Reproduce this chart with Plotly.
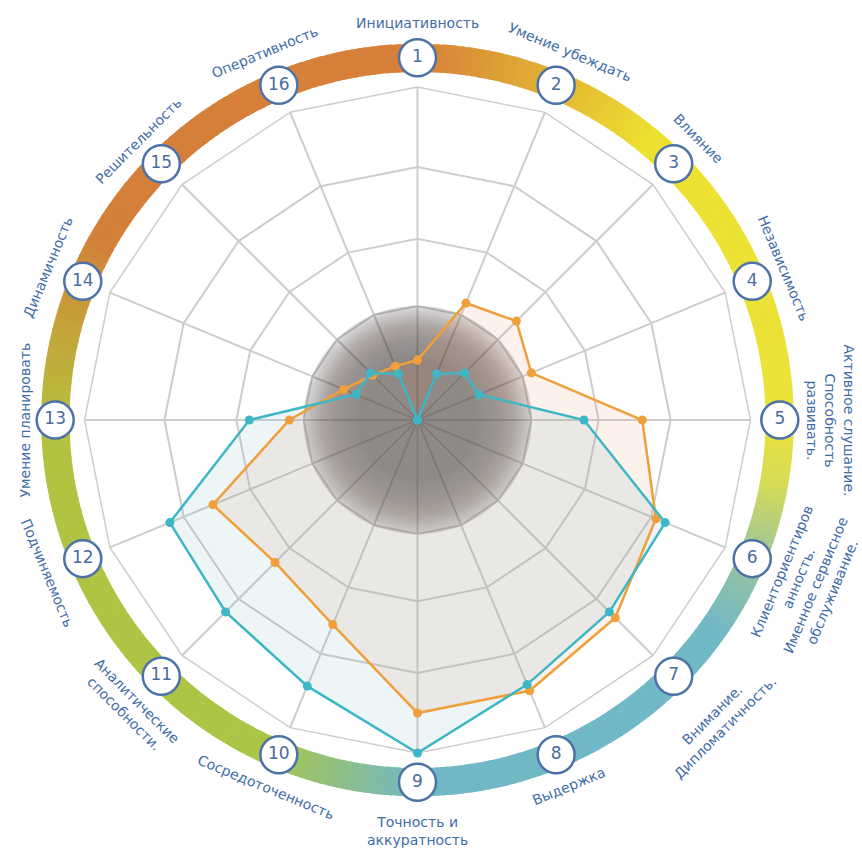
import numpy as np
import plotly.graph_objects as go

# ---------------- data ----------------
categories = [str(i) for i in range(1, 17)]
labels = [
    "Инициативность",
    "Умение убеждать",
    "Влияние",
    "Независимость",
    "Активное слушание.<br>Способность<br>развивать.",
    "Клиенториентиров<br>анность.<br>Именное сервисное<br>обслуживание.",
    "Внимание.<br>Дипломатичность.",
    "Выдержка",
    "Точность и<br>аккуратность",
    "Сосредоточенность",
    "Аналитические<br>способности.",
    "Подчиняемость",
    "Умение планировать",
    "Динамичность",
    "Решительность",
    "Оперативность",
]
orange_vals = [18, 38, 42, 37, 67.5, 77.5, 84, 88, 88, 66.5, 60.5, 66.5, 38.5, 24, 19, 17.5]
teal_vals = [0, 15, 20, 20, 50, 80.5, 81.5, 86, 100, 86.5, 81.5, 80.5, 50.5, 20, 20, 15]
ring_levels = [34.2, 54.4, 76]

# ---------------- geometry / style ----------------
W, H = 862, 851
CX, CY = 417.5, 420.0
PX = 3.33  # pixels per radial unit (100 units -> 333 px)

ORANGE = "#ef9f3b"
TEAL = "#3db7c6"
GRID = "#cdcdcd"
LABEL = "#3f6da7"
NUMC = "#4a6c9c"


def domain(rpx):
    return dict(x=[(CX - rpx) / W, (CX + rpx) / W],
                y=[1 - (CY + rpx) / H, 1 - (CY - rpx) / H])


fig = go.Figure()

# polar : grid only (dummy trace)
fig.add_trace(go.Scatterpolar(r=[0] * 16, theta=categories, mode="markers",
                              marker=dict(size=1, opacity=0), hoverinfo="skip",
                              showlegend=False, subplot="polar"))

# polar2 : shaded disk (radial gradient built from translucent layers)
prof_r = [0, 18, 24, 28, 31, 33, 34.3]
prof_t = [0.50, 0.50, 0.47, 0.40, 0.30, 0.22, 0.15]
radii = np.arange(34.3, 0.3, -0.6)
prev = 0.0
circ_theta = np.linspace(0, 360, 241)
for rk in radii:
    t = float(np.interp(rk - 0.3, prof_r, prof_t))
    a = 1 - (1 - t) / (1 - prev) if prev < 1 else 0
    prev = t
    fig.add_trace(go.Scatterpolar(r=[rk] * len(circ_theta), theta=circ_theta,
                                  mode="lines", line=dict(width=0),
                                  fill="toself", fillcolor=f"rgba(48,44,40,{a:.4f})",
                                  hoverinfo="skip", showlegend=False, subplot="polar2"))

# polar3 : data
th = categories + [categories[0]]
fig.add_trace(go.Scatterpolar(r=orange_vals + [orange_vals[0]], theta=th, mode="none",
                              fill="toself", fillcolor="rgba(230,138,88,0.12)",
                              hoverinfo="skip", showlegend=False, subplot="polar3"))
fig.add_trace(go.Scatterpolar(r=teal_vals + [teal_vals[0]], theta=th, mode="none",
                              fill="toself", fillcolor="rgba(105,172,188,0.12)",
                              hoverinfo="skip", showlegend=False, subplot="polar3"))
fig.add_trace(go.Scatterpolar(r=orange_vals + [orange_vals[0]], theta=th, mode="lines+markers",
                              line=dict(color=ORANGE, width=2.5),
                              marker=dict(color=ORANGE, size=9),
                              showlegend=False, subplot="polar3"))
fig.add_trace(go.Scatterpolar(r=teal_vals + [teal_vals[0]], theta=th, mode="lines+markers",
                              line=dict(color=TEAL, width=2.5),
                              marker=dict(color=TEAL, size=9),
                              showlegend=False, subplot="polar3"))

# polar4 : coloured ring + numbered circles
stops = [(0, "#d8803a"), (15, "#dea336"), (40, "#ede12f"), (90, "#ebe33a"),
         (100, "#d6dc55"), (112, "#9cc59a"), (125, "#72b9c6"), (180, "#70b8c5"),
         (192, "#8ebf8a"), (205, "#aac647"), (268, "#b3c240"), (284, "#c4a53a"),
         (300, "#d3803a"), (360, "#d8803a")]


def hex2rgb(h):
    return [int(h[i:i + 2], 16) for i in (1, 3, 5)]


sa = [s[0] for s in stops]
sc = np.array([hex2rgb(s[1]) for s in stops], dtype=float)
ring_theta = np.arange(0, 360, 1.0) + 0.5
ring_cols = []
for tdeg in ring_theta:
    c = [np.interp(tdeg, sa, sc[:, k]) for k in range(3)]
    ring_cols.append("rgb(%d,%d,%d)" % tuple(int(round(v)) for v in c))

fig.add_trace(go.Barpolar(r=[8.5] * len(ring_theta), base=104.5, theta=ring_theta,
                          width=[1.25] * len(ring_theta),
                          marker=dict(color=ring_cols, line=dict(width=0)),
                          hoverinfo="skip", showlegend=False, subplot="polar4"))
num_theta = [i * 22.5 for i in range(16)]
fig.add_trace(go.Scatterpolar(r=[108.8] * 16, theta=num_theta, mode="markers+text",
                              text=categories, textposition="middle center",
                              textfont=dict(color=NUMC, size=17, family="DejaVu Sans"),
                              marker=dict(size=37, color="white",
                                          line=dict(color="#4d72a8", width=2.5)),
                              hoverinfo="skip", showlegend=False, subplot="polar4"))

# curved-ish labels as rotated annotations
label_r = [397, 398, 398, 396, 413, 422, 426, 396, 411, 397, 406, 401, 393, 400, 395, 398]
annotations = []
for i, (txt, R) in enumerate(zip(labels, label_r)):
    th_deg = i * 22.5
    rad = np.radians(th_deg)
    px = CX + R * np.sin(rad)
    py = CY - R * np.cos(rad)
    if 90 < th_deg < 270:
        ang = th_deg - 180
    else:
        ang = th_deg if th_deg <= 180 else th_deg - 360
    annotations.append(dict(x=px / W, y=1 - py / H, xref="paper", yref="paper",
                            text=txt, showarrow=False, textangle=ang,
                            xanchor="center", yanchor="middle",
                            font=dict(family="DejaVu Sans", size=14, color=LABEL)))

hidden = dict(visible=False)
fig.update_layout(
    width=W, height=H, margin=dict(l=0, r=0, t=0, b=0),
    paper_bgcolor="white", plot_bgcolor="white", template="none",
    showlegend=False,
    annotations=annotations,
    polar=dict(
        domain=domain(100 * PX), bgcolor="white", gridshape="linear",
        radialaxis=dict(range=[0, 100], tickvals=ring_levels, showgrid=True,
                        gridcolor=GRID, gridwidth=1.5, showline=False,
                        showticklabels=False, ticks=""),
        angularaxis=dict(type="category", categoryarray=categories, rotation=90,
                         direction="clockwise", showgrid=True, gridcolor=GRID,
                         gridwidth=1.5, showline=True, linecolor=GRID, linewidth=1.5,
                         showticklabels=False, ticks=""),
    ),
    polar2=dict(
        domain=domain(100 * PX), bgcolor="rgba(0,0,0,0)",
        radialaxis=dict(range=[0, 100], visible=False),
        angularaxis=dict(rotation=90, direction="clockwise", visible=False),
    ),
    polar3=dict(
        domain=domain(100 * PX), bgcolor="rgba(0,0,0,0)",
        radialaxis=dict(range=[0, 100], visible=False),
        angularaxis=dict(type="category", categoryarray=categories, rotation=90,
                         direction="clockwise", visible=False),
    ),
    polar4=dict(
        domain=domain(114 * PX), bgcolor="rgba(0,0,0,0)",
        radialaxis=dict(range=[0, 114], visible=False),
        angularaxis=dict(rotation=90, direction="clockwise", visible=False),
    ),
)

fig.write_html("out.html", config={"displayModeBar": False},
               post_script="document.body.style.margin='0';document.body.style.overflow='hidden';")
